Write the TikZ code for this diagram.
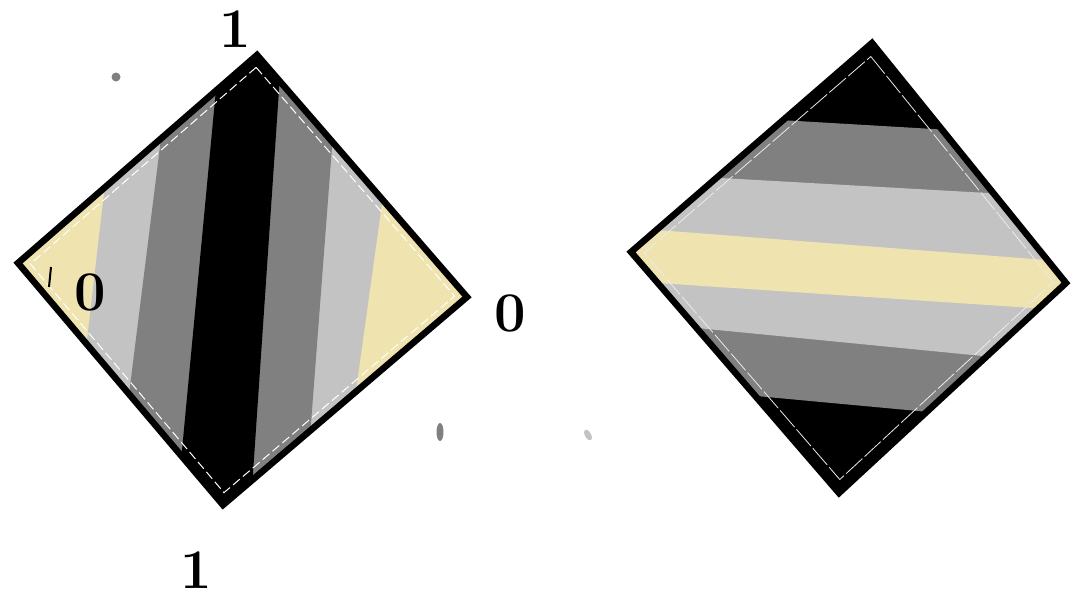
\documentclass[tikz,border=0pt]{standalone}
\usetikzlibrary{calc}
\definecolor{paleyellow}{RGB}{239,227,176}
\definecolor{lgray}{RGB}{195,195,195}
\definecolor{mgray}{RGB}{128,128,128}
\begin{document}
\begin{tikzpicture}[x=1pt,y=-1pt,
  frame/.style={line width=6.5pt, line join=miter},
  innerline/.style={white, line width=1pt, dash pattern=on 9pt off 4pt},
  innerlineb/.style={white!92!black, line width=0.8pt, dash pattern=on 22pt off 3pt},
  lbl/.style={font=\fontsize{56}{60}\selectfont\bfseries, inner sep=0pt}]
\useasboundingbox (0,0) rectangle (1071,600);
\fill[white] (0,0) rectangle (1071,600);

% ---------- left diamond ----------
\coordinate (LT) at (257,55);
\coordinate (LR) at (467,297);
\coordinate (LB) at (223,505);
\coordinate (LL) at (18,263);
\coordinate (LC) at (241,280);
\begin{scope}
  \clip (LT) -- (LR) -- (LB) -- (LL) -- cycle;
  \fill[paleyellow] (0,0) rectangle (500,600);
  \fill[lgray] (126.3,0) -- (410.2,0) -- (326.9,600) -- (57.0,600) -- cycle;
  \fill[mgray] (178.3,0) -- (343.2,0) -- (297.6,600) -- (103.3,600) -- cycle;
  \fill[black] (224.4,0) -- (285.1,0) -- (244.4,600) -- (167.9,600) -- cycle;
\end{scope}
\draw[innerline] ($(LC)!0.945!(LT)$) -- ($(LC)!0.945!(LR)$) -- ($(LC)!0.945!(LB)$) -- ($(LC)!0.945!(LL)$) -- cycle;
\draw[frame] (LT) -- (LR) -- (LB) -- (LL) -- cycle;

% ---------- right diamond ----------
\coordinate (RT) at (872,43);
\coordinate (RR) at (1066,283);
\coordinate (RB) at (839,493);
\coordinate (RL) at (631,252);
\coordinate (RC) at (852,268);
\begin{scope}
  \clip (RT) -- (RR) -- (RB) -- (RL) -- cycle;
  \fill[black] (600,0) rectangle (1100,600);
  \fill[mgray] (600,109.4) -- (1100,138.8) -- (1100,427.9) -- (600,381.5) -- cycle;
  \fill[lgray] (600,171.2) -- (1100,199.3) -- (1100,367.5) -- (600,318.5) -- cycle;
  \fill[paleyellow] (600,225.6) -- (1100,264.1) -- (1100,312.5) -- (600,279.1) -- cycle;
\end{scope}
\draw[innerlineb] ($(RC)!0.94!(RT)$) -- ($(RC)!0.94!(RR)$) -- ($(RC)!0.94!(RB)$) -- ($(RC)!0.94!(RL)$) -- cycle;
\draw[frame] (RT) -- (RR) -- (RB) -- (RL) -- cycle;

% ---------- labels ----------
\node[lbl] (topone) at (235,29) {1};
\node[lbl] (rightzero) at (510.5,313.5) {0};
\node[lbl] (bottomone) at (196.5,570) {1};
\node[lbl] (leftzero) at (90,292) {0};
\draw[line width=2pt] (51,267) -- (49,287);

% ---------- stray marks ----------
\fill[mgray] (116,77) circle (4.5);
\fill[mgray] (440,432) ellipse (3.5 and 9);
\fill[lgray, rotate around={30:(588,435)}] (588,435) ellipse (3 and 6);
\end{tikzpicture}
\end{document}
